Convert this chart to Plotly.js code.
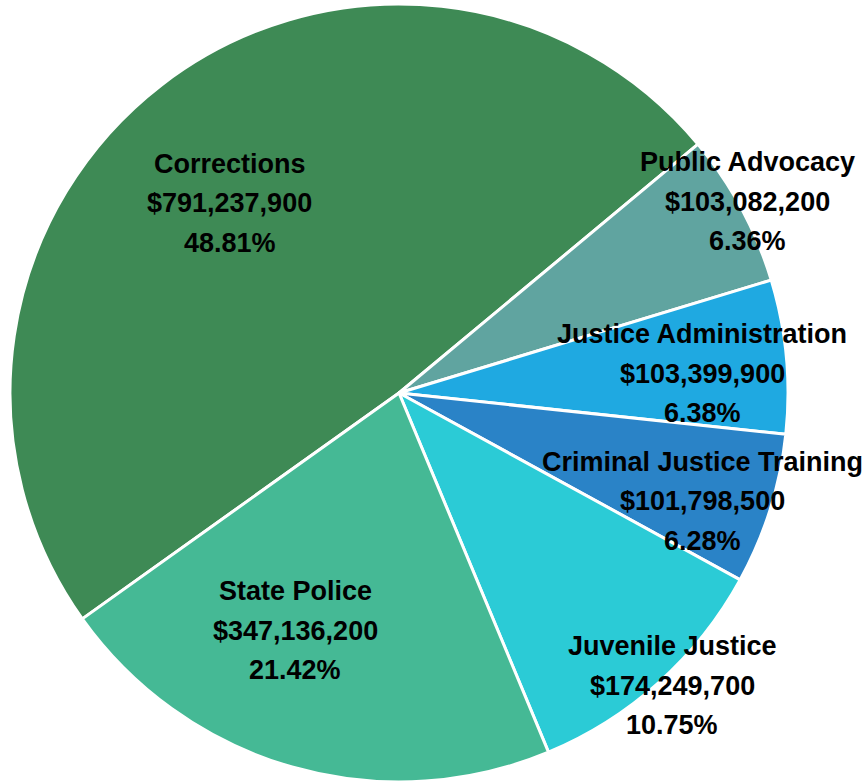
<!DOCTYPE html>
<html>
<head>
<meta charset="utf-8">
<script src="https://cdn.plot.ly/plotly-3.0.1.min.js"></script>
<style>html,body{margin:0;padding:0;background:#fff;}#chart{width:867px;height:782px;}</style>
</head>
<body>
<div id="chart"></div>
<script>
const categories = ["Corrections", "Public Advocacy", "Justice Administration", "Criminal Justice Training", "Juvenile Justice", "State Police"];
const amounts = [791237900, 103082200, 103399900, 101798500, 174249700, 347136200];
const percentLabels = ["48.81%", "6.36%", "6.38%", "6.28%", "10.75%", "21.42%"];

const sliceColors = ["#3E8A55", "#60A4A0", "#1FA9E1", "#2A83C7", "#2BCBD6", "#45B995"];
// label centre positions in pixels (x, y of first line)
const labelPos = [[230, 164], [747, 162], [702, 334], [702, 462], [672, 646], [295, 591]];
const W = 867, H = 782, LINE = 39.5;

function money(v) { return "$" + v.toLocaleString("en-US"); }

const annotations = [];
categories.forEach((c, i) => {
  const lines = [c, money(amounts[i]), percentLabels[i]];
  lines.forEach((t, k) => {
    annotations.push({
      text: "<b>" + t + "</b>",
      x: labelPos[i][0] / W,
      y: 1 - (labelPos[i][1] + k * LINE) / H,
      xref: "paper", yref: "paper",
      xanchor: "center", yanchor: "middle",
      showarrow: false,
      font: {family: "Liberation Sans, Arial, sans-serif", size: 27, color: "#000"}
    });
  });
});

const cx = 399, cy = 393, r = 389;
const data = [{
  type: "pie",
  labels: categories,
  values: amounts,
  sort: false,
  direction: "clockwise",
  rotation: -125.5,
  textinfo: "none",
  hoverinfo: "label+value+percent",
  marker: {colors: sliceColors, line: {color: "#ffffff", width: 3}},
  domain: {x: [(cx - r) / W, (cx + r) / W], y: [1 - (cy + r) / H, 1 - (cy - r) / H]},
  showlegend: false
}];

const layout = {
  width: W, height: H,
  margin: {l: 0, r: 0, t: 0, b: 0},
  paper_bgcolor: "#ffffff",
  showlegend: false,
  annotations: annotations
};

Plotly.newPlot("chart", data, layout, {displayModeBar: false, staticPlot: true});
</script>
</body>
</html>
